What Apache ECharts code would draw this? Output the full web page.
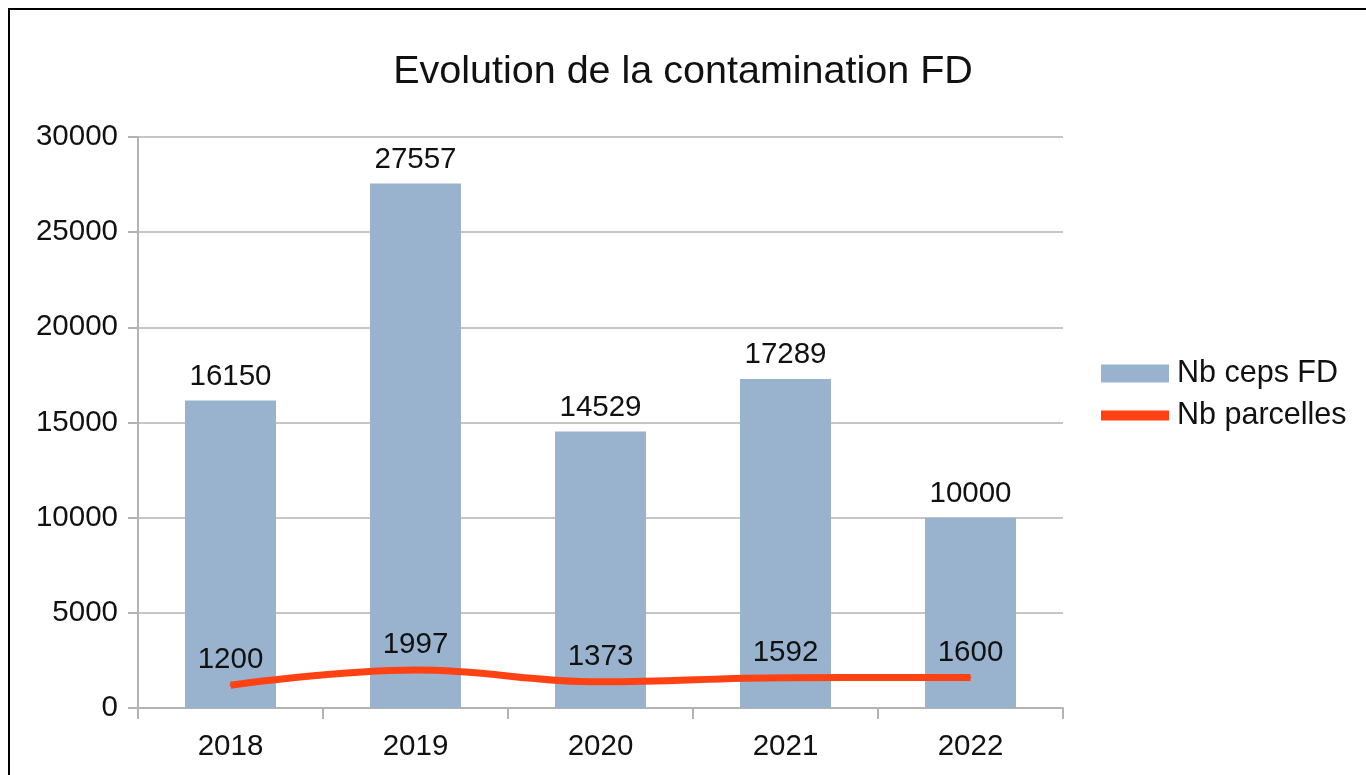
<!DOCTYPE html>
<html>
<head>
<meta charset="utf-8">
<script src="https://cdn.jsdelivr.net/npm/echarts@6/dist/echarts.min.js"></script>
<style>
    html, body { margin: 0; padding: 0; background: #fff; }
    #frame { position: absolute; left: 8px; top: 8px; width: 1400px; height: 800px; border: 2px solid #000; }
    #main { position: absolute; left: 0; top: 0; width: 1366px; height: 775px; }
</style>
</head>
<body>
<div id="frame"></div>
<div id="main"></div>
<script>
    var years = ['2018', '2019', '2020', '2021', '2022'];
    var cepsFD = [16150, 27557, 14529, 17289, 10000];
    var parcelles = [1200, 1997, 1373, 1592, 1600];
    var yTicks = [0, 30000, 5000]; // min, max, interval

    var myChart = echarts.init(document.getElementById('main'));
    var txt = '#111';
    var fontName = 'Liberation Sans, Arial, sans-serif';
    var fs = 29.5;
    var option = {
        animation: false,
        title: {
            text: 'Evolution de la contamination FD',
            left: 'center',
            top: 47,
            textStyle: { fontFamily: fontName, fontSize: 39.5, fontWeight: 'normal', color: txt }
        },
        textStyle: { fontFamily: fontName },
        legend: [
            {
                data: [{ name: 'Nb ceps FD', icon: 'rect' }],
                left: 1096, top: 353,
                itemWidth: 68, itemHeight: 18, itemGap: 8,
                textStyle: { fontSize: 30.5, color: txt, fontFamily: fontName, padding: [0, 0, 0, 3] }
            },
            {
                data: [{ name: 'Nb parcelles', icon: 'rect' }],
                left: 1096, top: 395,
                itemWidth: 68, itemHeight: 10, itemGap: 8,
                textStyle: { fontSize: 30.5, color: txt, fontFamily: fontName, padding: [0, 0, 0, 3] }
            }
        ],
        grid: { left: 138, right: 303, top: 137, bottom: 67, containLabel: false },
        xAxis: {
            type: 'category',
            data: years,
            boundaryGap: true,
            axisLine: { lineStyle: { color: '#b3b3b3', width: 2 } },
            axisTick: { show: true, length: 11, lineStyle: { color: '#b3b3b3', width: 2 } },
            axisLabel: { fontSize: fs, color: txt, margin: 24, fontFamily: fontName }
        },
        yAxis: {
            type: 'value',
            min: yTicks[0], max: yTicks[1], interval: yTicks[2],
            axisLine: { show: true, lineStyle: { color: '#b3b3b3', width: 2 } },
            axisTick: { show: true, length: 10, lineStyle: { color: '#b3b3b3', width: 2 } },
            splitLine: { lineStyle: { color: '#b3b3b3', width: 1.5 } },
            axisLabel: {
                fontSize: fs, color: txt, margin: 20, fontFamily: fontName,
                formatter: function (v) { return String(v); }
            }
        },
        series: [
            {
                name: 'Nb ceps FD',
                type: 'bar',
                data: cepsFD,
                barWidth: 91,
                itemStyle: { color: '#99b3cf' },
                label: { show: true, position: 'top', distance: 9, fontSize: fs, color: txt, fontFamily: fontName }
            },
            {
                name: 'Nb parcelles',
                type: 'line',
                data: parcelles,
                smooth: 0.4,
                symbol: 'circle',
                symbolSize: 2,
                showSymbol: true,
                showAllSymbol: true,
                itemStyle: { color: '#ff4214' },
                lineStyle: { color: '#ff4214', width: 7 },
                label: { show: true, position: 'top', distance: 9, fontSize: fs, color: txt, fontFamily: fontName }
            }
        ]
    };
    if (option && typeof option === "object") {
        myChart.setOption(option, true);
    }
</script>
</body>
</html>
